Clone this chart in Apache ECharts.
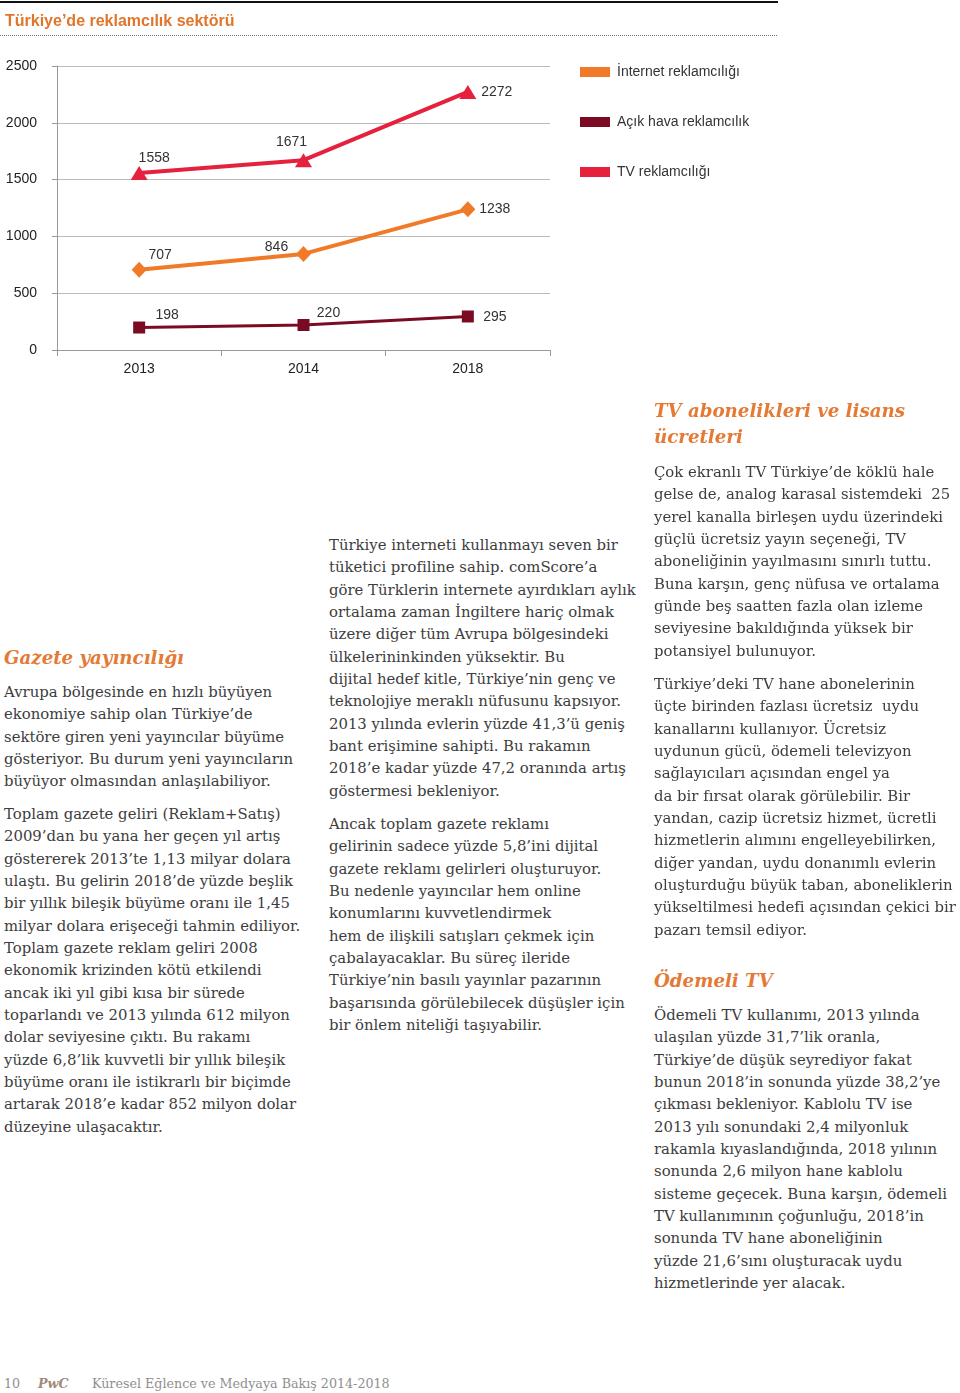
<!DOCTYPE html>
<html lang="tr">
<head>
<meta charset="utf-8">
<script src="https://cdn.jsdelivr.net/npm/echarts@6/dist/echarts.min.js"></script>
<style>
  html, body { margin: 0; padding: 0; background: #fff; }
  body { width: 960px; height: 1393px; position: relative; overflow: hidden; }
  #chart { position: absolute; left: 0; top: 0; width: 960px; height: 400px; }
  .p { position: absolute; white-space: pre; font-family: "DejaVu Serif", serif; color: #3d3d3d; line-height: 22.35px; font-size: 14.5px; }
  .h { position: absolute; white-space: pre; font-family: "DejaVu Serif", serif; font-weight: bold; font-style: italic; color: #E47A35; font-size: 19px; line-height: 26px; }
  .foot { position: absolute; top: 1374px; white-space: pre; font-family: "DejaVu Serif", serif; color: #8f8f8f; font-size: 12.7px; line-height: 20px; }
</style>
</head>
<body>
<div id="chart"></div>

<div class="h" id="h1" style="left:4px; top:645px;">Gazete yayıncılığı</div>
<div class="p" id="ref" style="left:4px; top:681px;">Avrupa bölgesinde en hızlı büyüyen
ekonomiye sahip olan Türkiye’de
sektöre giren yeni yayıncılar büyüme
gösteriyor. Bu durum yeni yayıncıların
büyüyor olmasından anlaşılabiliyor.</div>
<div class="p" style="left:4px; top:803px;">Toplam gazete geliri (Reklam+Satış)
2009’dan bu yana her geçen yıl artış
göstererek 2013’te 1,13 milyar dolara
ulaştı. Bu gelirin 2018’de yüzde beşlik
bir yıllık bileşik büyüme oranı ile 1,45
milyar dolara erişeceği tahmin ediliyor.
Toplam gazete reklam geliri 2008
ekonomik krizinden kötü etkilendi
ancak iki yıl gibi kısa bir sürede
toparlandı ve 2013 yılında 612 milyon
dolar seviyesine çıktı. Bu rakamı
yüzde 6,8’lik kuvvetli bir yıllık bileşik
büyüme oranı ile istikrarlı bir biçimde
artarak 2018’e kadar 852 milyon dolar
düzeyine ulaşacaktır.</div>

<div class="p" style="left:329px; top:534px;">Türkiye interneti kullanmayı seven bir
tüketici profiline sahip. comScore’a
göre Türklerin internete ayırdıkları aylık
ortalama zaman İngiltere hariç olmak
üzere diğer tüm Avrupa bölgesindeki
ülkelerininkinden yüksektir. Bu
dijital hedef kitle, Türkiye’nin genç ve
teknolojiye meraklı nüfusunu kapsıyor.
2013 yılında evlerin yüzde 41,3’ü geniş
bant erişimine sahipti. Bu rakamın
2018’e kadar yüzde 47,2 oranında artış
göstermesi bekleniyor.</div>
<div class="p" style="left:329px; top:813px;">Ancak toplam gazete reklamı
gelirinin sadece yüzde 5,8’ini dijital
gazete reklamı gelirleri oluşturuyor.
Bu nedenle yayıncılar hem online
konumlarını kuvvetlendirmek
hem de ilişkili satışları çekmek için
çabalayacaklar. Bu süreç ileride
Türkiye’nin basılı yayınlar pazarının
başarısında görülebilecek düşüşler için
bir önlem niteliği taşıyabilir.</div>

<div class="h" id="h2" style="left:654px; top:398px;">TV abonelikleri ve lisans
ücretleri</div>
<div class="p" style="left:654px; top:461px;">Çok ekranlı TV Türkiye’de köklü hale
gelse de, analog karasal sistemdeki  25
yerel kanalla birleşen uydu üzerindeki
güçlü ücretsiz yayın seçeneği, TV
aboneliğinin yayılmasını sınırlı tuttu.
Buna karşın, genç nüfusa ve ortalama
günde beş saatten fazla olan izleme
seviyesine bakıldığında yüksek bir
potansiyel bulunuyor.</div>
<div class="p" style="left:654px; top:673px;">Türkiye’deki TV hane abonelerinin
üçte birinden fazlası ücretsiz  uydu
kanallarını kullanıyor. Ücretsiz
uydunun gücü, ödemeli televizyon
sağlayıcıları açısından engel ya
da bir fırsat olarak görülebilir. Bir
yandan, cazip ücretsiz hizmet, ücretli
hizmetlerin alımını engelleyebilirken,
diğer yandan, uydu donanımlı evlerin
oluşturduğu büyük taban, aboneliklerin
yükseltilmesi hedefi açısından çekici bir
pazarı temsil ediyor.</div>
<div class="h" style="left:654px; top:968px;">Ödemeli TV</div>
<div class="p" style="left:654px; top:1004px;">Ödemeli TV kullanımı, 2013 yılında
ulaşılan yüzde 31,7’lik oranla,
Türkiye’de düşük seyrediyor fakat
bunun 2018’in sonunda yüzde 38,2’ye
çıkması bekleniyor. Kablolu TV ise
2013 yılı sonundaki 2,4 milyonluk
rakamla kıyaslandığında, 2018 yılının
sonunda 2,6 milyon hane kablolu
sisteme geçecek. Buna karşın, ödemeli
TV kullanımının çoğunluğu, 2018’in
sonunda TV hane aboneliğinin
yüzde 21,6’sını oluşturacak uydu
hizmetlerinde yer alacak.</div>

<div class="foot" style="left:4px;">10</div>
<div class="foot" style="left:38px; font-weight:bold; font-style:italic; color:#a08a7a;">PwC</div>
<div class="foot" style="left:92px;">Küresel Eğlence ve Medyaya Bakış 2014-2018</div>

<script>
// ---- data ----
const years = ['2013', '2014', '2018'];
const seriesNames = ['İnternet reklamcılığı', 'Açık hava reklamcılık', 'TV reklamcılığı'];
const internetValues = [707, 846, 1238];
const outdoorValues = [198, 220, 295];
const tvValues = [1558, 1671, 2272];
const yTicks = [0, 500, 1000, 1500, 2000, 2500];

// ---- fit body text width to reference ----
(function fitText() {
  const ref = document.getElementById('ref');
  const firstLine = ref.textContent.split('\n')[0];
  const probe = document.createElement('span');
  probe.style.cssText = 'position:absolute;visibility:hidden;white-space:pre;font-family:"DejaVu Serif",serif;font-size:100px;';
  probe.textContent = firstLine;
  document.body.appendChild(probe);
  const w = probe.getBoundingClientRect().width;
  const size = 100 * 268 / w;
  document.querySelectorAll('.p').forEach(el => el.style.fontSize = size.toFixed(2) + 'px');
  probe.style.fontWeight = 'bold'; probe.style.fontStyle = 'italic';
  probe.textContent = 'Gazete yayıncılığı';
  const hw = probe.getBoundingClientRect().width;
  const hs = 100 * 180 / hw;
  document.querySelectorAll('.h').forEach(el => el.style.fontSize = hs.toFixed(2) + 'px');
  probe.remove();
})();

// ---- label placement (style, not data) ----
const labelOffsets = {
  internet: [[21, -15], [-27, -7], [27, 0]],
  outdoor: [[28, -12], [25, -12], [27, 1]],
  tv: [[15, -15], [-12, -18], [29, 0]]
};
function withLabels(values, offsets) {
  return values.map((v, i) => ({ value: v, label: { position: 'inside', offset: offsets[i] } }));
}

const colors = { internet: '#F07A28', outdoor: '#7A0B22', tv: '#E5213D' };
const labelStyle = { show: true, fontSize: 14, color: '#333', fontFamily: 'Liberation Sans, Arial, sans-serif' };

const chart = echarts.init(document.getElementById('chart'), null, { renderer: 'canvas' });
chart.setOption({
  animation: false,
  textStyle: { fontFamily: 'Liberation Sans, Arial, sans-serif' },
  title: {
    text: 'Türkiye’de reklamcılık sektörü',
    left: 0, top: 9,
    textStyle: { fontSize: 16, fontWeight: 'bold', color: '#E0762B' }
  },
  graphic: [
    { type: 'line', shape: { x1: 0, y1: 2, x2: 778, y2: 2 }, style: { stroke: '#111', lineWidth: 2 } },
    { type: 'line', shape: { x1: 0, y1: 35.5, x2: 778, y2: 35.5 }, style: { stroke: '#777', lineWidth: 1, lineDash: [1, 1] } }
  ],
  legend: {
    orient: 'vertical', left: 580, top: 65, itemGap: 36, padding: 0,
    itemWidth: 30, itemHeight: 10, icon: 'rect',
    data: seriesNames,
    textStyle: { fontSize: 14, color: '#333', padding: [0, 0, 0, 2] }
  },
  grid: { left: 57, right: 410, top: 66, height: 284 },
  xAxis: {
    type: 'category', data: years, boundaryGap: true,
    axisLine: { lineStyle: { color: '#999' } },
    axisTick: { show: true, length: 6, lineStyle: { color: '#999' } },
    axisLabel: { fontSize: 14, color: '#222', margin: 12 }
  },
  yAxis: {
    type: 'value', min: yTicks[0], max: yTicks[yTicks.length - 1], interval: yTicks[1] - yTicks[0],
    axisLine: { show: true, lineStyle: { color: '#999' } },
    axisTick: { show: true, length: 5, lineStyle: { color: '#999' } },
    axisLabel: { fontSize: 14, color: '#222', margin: 20, formatter: v => String(v) },
    splitLine: { lineStyle: { color: '#bbb' } }
  },
  series: [
    {
      name: seriesNames[0], type: 'line', data: withLabels(internetValues, labelOffsets.internet),
      color: colors.internet, lineStyle: { width: 4 }, symbol: 'diamond', symbolSize: [15, 16],
      label: labelStyle
    },
    {
      name: seriesNames[1], type: 'line', data: withLabels(outdoorValues, labelOffsets.outdoor),
      color: colors.outdoor, lineStyle: { width: 3 }, symbol: 'rect', symbolSize: 12,
      label: labelStyle
    },
    {
      name: seriesNames[2], type: 'line', data: withLabels(tvValues, labelOffsets.tv),
      color: colors.tv, lineStyle: { width: 4 }, symbol: 'triangle', symbolSize: [17, 14],
      label: labelStyle
    }
  ]
});
</script>
</body>
</html>
